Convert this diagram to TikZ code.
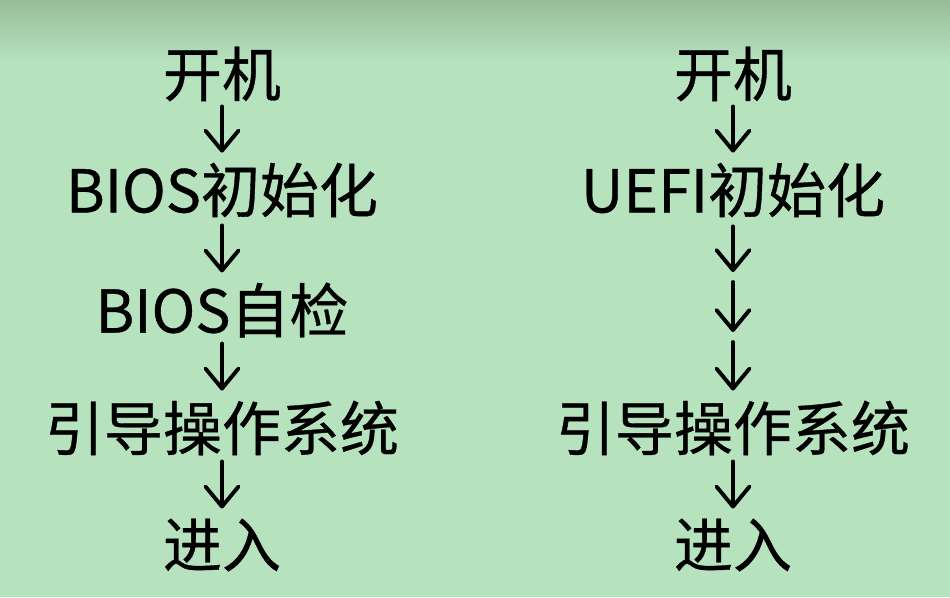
\documentclass[tikz,border=0pt]{standalone}
\usepackage{fontspec}
\setmainfont{Noto Sans CJK SC}[FakeBold=0.6]
\usetikzlibrary{arrows.meta}
\definecolor{bgmain}{RGB}{182,226,189}
\definecolor{bgtop}{RGB}{150,189,152}
\begin{document}
\begin{tikzpicture}[x=1pt,y=-1pt,
  lbl/.style={font=\fontsize{59}{62}\selectfont, inner sep=0pt, anchor=center, text=black},
  flow/.style={line width=3.9pt, draw=black, line cap=round,
    -{Straight Barb[length=20pt,width=33pt,line width=3.9pt,round]}}]
\useasboundingbox (0,0) rectangle (950,597);
\fill[bgmain] (0,0) rectangle (950,597);
\shade[top color=bgtop, bottom color=bgmain] (0,0) rectangle (950,62);
% left column
\node[lbl] (l1) at (222,74)  {开机};
\node[lbl] (l2) at (222,190) {BIOS初始化};
\node[lbl] (l3) at (222,310) {BIOS自检};
\node[lbl] (l4) at (222,428) {引导操作系统};
\node[lbl] (l5) at (222,545) {进入};
\draw[flow, shorten <=5pt, shorten >=10pt] (l1.south) -- (l1.south |- l2.north);
\draw[flow, shorten <=8pt, shorten >=10pt] (l2.south) -- (l2.south |- l3.north);
\draw[flow, shorten <=6pt, shorten >=10pt] (l3.south) -- (l3.south |- l4.north);
\draw[flow, shorten <=6pt, shorten >=10pt] (l4.south) -- (l4.south |- l5.north);
% right column
\node[lbl] (r1) at (733,74)  {开机};
\node[lbl] (r2) at (733,190) {UEFI初始化};
\coordinate (c1) at (733,277);
\coordinate (c2) at (733,337);
\node[lbl] (r4) at (733,428) {引导操作系统};
\node[lbl] (r5) at (733,545) {进入};
\draw[flow, shorten <=5pt, shorten >=10pt] (r1.south) -- (r1.south |- r2.north);
\draw[flow, shorten <=9pt, shorten >=5pt] (r2.south) -- (c1);
\draw[flow, shorten <=5pt, shorten >=5pt] (c1) -- (c2);
\draw[flow, shorten <=5pt, shorten >=10pt] (c2) -- (r4.north);
\draw[flow, shorten <=6pt, shorten >=10pt] (r4.south) -- (r4.south |- r5.north);
\end{tikzpicture}
\end{document}
